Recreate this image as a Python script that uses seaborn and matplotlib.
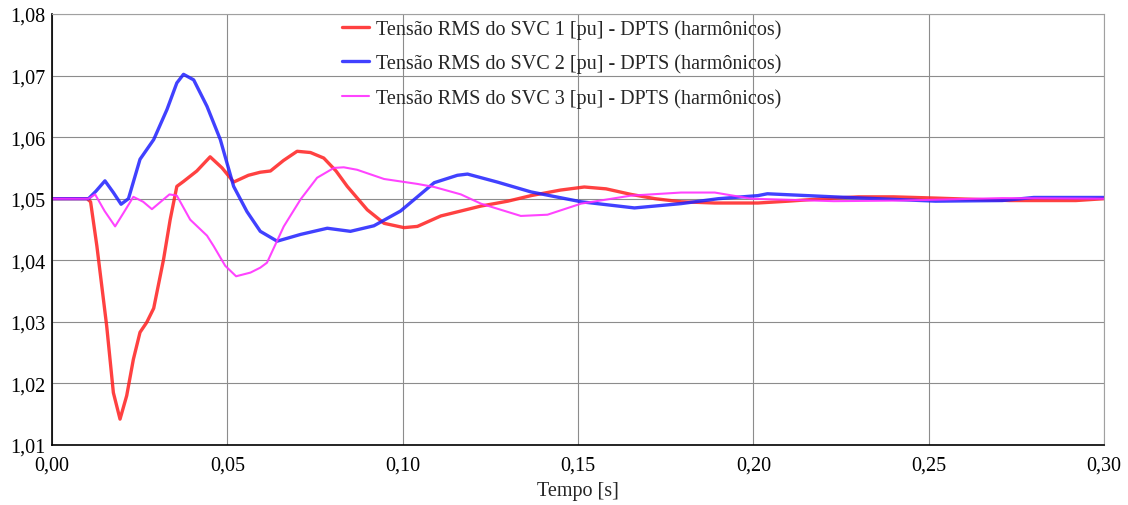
import matplotlib
matplotlib.use("Agg")
import matplotlib.pyplot as plt
from matplotlib.ticker import FuncFormatter, MultipleLocator
import seaborn as sns

# Tensão RMS dos SVCs
t_svc1 = [0, 0.0100, 0.0110, 0.0128, 0.0156, 0.0175, 0.0194, 0.0213, 0.0232, 0.0251,
          0.0270, 0.0290, 0.0318, 0.0337, 0.0356, 0.0375, 0.0413, 0.0451, 0.0485, 0.0518,
          0.0560, 0.0594, 0.0623, 0.0660, 0.0699, 0.0737, 0.0775, 0.0810, 0.0842, 0.0899,
          0.0947, 0.1004, 0.1042, 0.1109, 0.1166, 0.1223, 0.1300, 0.1366, 0.1450, 0.1518,
          0.1580, 0.1651, 0.1720, 0.1794, 0.1890, 0.2013, 0.2100, 0.2200, 0.2300, 0.2400,
          0.2520, 0.2730, 0.2920, 0.3000]
v_svc1 = [1.0500, 1.0500, 1.0495, 1.0423, 1.0293, 1.0185, 1.0142, 1.0180, 1.0239, 1.0283,
          1.0299, 1.0322, 1.0401, 1.0466, 1.0520, 1.0528, 1.0545, 1.0568, 1.0550, 1.0527,
          1.0538, 1.0543, 1.0545, 1.0562, 1.0577, 1.0575, 1.0566, 1.0545, 1.0520, 1.0482,
          1.0460, 1.0453, 1.0455, 1.0472, 1.0480, 1.0488, 1.0496, 1.0505, 1.0514, 1.0519,
          1.0516, 1.0507, 1.0500, 1.0495, 1.0493, 1.0493, 1.0496, 1.0500, 1.0503, 1.0503,
          1.0501, 1.0497, 1.0497, 1.0500]

t_svc2 = [0, 0.0104, 0.0125, 0.0151, 0.0175, 0.0197, 0.0218, 0.0251, 0.0290, 0.0328,
          0.0356, 0.0375, 0.0404, 0.0442, 0.0480, 0.0518, 0.0556, 0.0594, 0.0642, 0.0709,
          0.0785, 0.0851, 0.0918, 0.0994, 0.1090, 0.1156, 0.1185, 0.1270, 0.1366, 0.1509,
          0.1661, 0.1794, 0.1900, 0.2013, 0.2040, 0.2230, 0.2520, 0.2710, 0.2800, 0.3000]
v_svc2 = [1.0500, 1.0500, 1.0512, 1.0529, 1.0510, 1.0491, 1.0500, 1.0564, 1.0596, 1.0645,
          1.0688, 1.0702, 1.0693, 1.0650, 1.0596, 1.0520, 1.0479, 1.0447, 1.0431, 1.0442,
          1.0452, 1.0447, 1.0456, 1.0480, 1.0526, 1.0538, 1.0540, 1.0527, 1.0511, 1.0495,
          1.0485, 1.0492, 1.0500, 1.0505, 1.0508, 1.0503, 1.0496, 1.0497, 1.0502, 1.0502]

t_svc3 = [0, 0.0104, 0.0123, 0.0150, 0.0180, 0.0204, 0.0232, 0.0260, 0.0285, 0.0310,
          0.0335, 0.0356, 0.0394, 0.0442, 0.0461, 0.0494, 0.0525, 0.0566, 0.0594, 0.0613,
          0.0661, 0.0709, 0.0756, 0.0804, 0.0832, 0.0870, 0.0947, 0.1042, 0.1090, 0.1166,
          0.1223, 0.1337, 0.1413, 0.1509, 0.1651, 0.1794, 0.1890, 0.1994, 0.2230, 0.2420,
          0.2710, 0.3000]
v_svc3 = [1.0500, 1.0500, 1.0507, 1.0480, 1.0455, 1.0477, 1.0503, 1.0495, 1.0483, 1.0495,
          1.0507, 1.0505, 1.0466, 1.0440, 1.0423, 1.0391, 1.0374, 1.0380, 1.0388, 1.0396,
          1.0455, 1.0499, 1.0534, 1.0550, 1.0551, 1.0547, 1.0532, 1.0524, 1.0519, 1.0507,
          1.0492, 1.0472, 1.0474, 1.0492, 1.0505, 1.0510, 1.0510, 1.0500, 1.0496, 1.0497,
          1.0501, 1.0500]

labels = ["Tensão RMS do SVC 1 [pu] - DPTS (harmônicos)",
          "Tensão RMS do SVC 2 [pu] - DPTS (harmônicos)",
          "Tensão RMS do SVC 3 [pu] - DPTS (harmônicos)"]

sns.set_style("whitegrid")
plt.rcParams['font.family'] = ['Liberation Serif', 'DejaVu Serif']

fig = plt.figure(figsize=(11.28, 5.06), dpi=100)
ax = fig.add_axes([0.0461, 0.1186, 0.9326, 0.8518])

sns.lineplot(x=t_svc1, y=v_svc1, color="#ff2020", linewidth=2.4, alpha=0.85, label=labels[0], ax=ax)
sns.lineplot(x=t_svc2, y=v_svc2, color="#2020ff", linewidth=2.4, alpha=0.85, label=labels[1], ax=ax)
sns.lineplot(x=t_svc3, y=v_svc3, color="#ff30ff", linewidth=1.5, alpha=0.9, label=labels[2], ax=ax)

ax.set_xlim(0, 0.30)
ax.set_ylim(1.01, 1.08)
ax.xaxis.set_major_locator(MultipleLocator(0.05))
ax.yaxis.set_major_locator(MultipleLocator(0.01))
ax.xaxis.set_major_formatter(FuncFormatter(lambda v, p: f"{v:.2f}".replace(".", ",")))
ax.yaxis.set_major_formatter(FuncFormatter(lambda v, p: f"{v:.2f}".replace(".", ",")))

ax.grid(True, color="#8c8c8c", linewidth=0.8)
for side in ["left", "bottom"]:
    ax.spines[side].set_color("black")
    ax.spines[side].set_linewidth(1.2)
for side in ["top", "right"]:
    ax.spines[side].set_color("#a0a0a0")
    ax.spines[side].set_linewidth(0.8)

ax.tick_params(axis="both", labelsize=14.5, colors="black", length=3, width=1,
               direction="inout")
ax.tick_params(axis="x", pad=6)
ax.tick_params(axis="y", pad=3)
ax.set_xlabel("Tempo [s]", fontsize=14.5, labelpad=5)
ax.set_ylabel("")

ax.legend(loc="upper left", bbox_to_anchor=(0.266, 1.012), frameon=False, fontsize=14.5,
          handlelength=1.35, handletextpad=0.35, labelspacing=0.75, borderaxespad=0.1)

fig.savefig("out.png", dpi=100)
